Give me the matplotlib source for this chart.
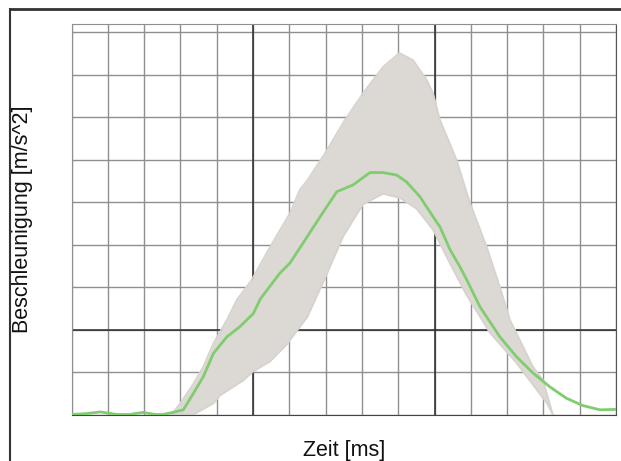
import numpy as np
import matplotlib.pyplot as plt
from matplotlib.lines import Line2D

plt.rcParams['font.family'] = ['Liberation Sans', 'DejaVu Sans']

# Mittelwertkurve (gruen)
mean_t = [0, 0.4, 0.79, 1.25, 1.6, 1.97, 2.3, 2.52, 2.8, 3.08, 3.36, 3.63, 3.91,
          4.28, 4.64, 5.01, 5.2, 5.74, 6.02, 6.38, 6.85, 7.31, 7.76, 8.22, 8.58,
          8.96, 9.23, 9.60, 9.96, 10.15, 10.43, 10.70, 10.89, 11.25, 11.80,
          12.26, 12.71, 13.18, 13.64, 14.09, 14.56, 15.0]
mean_a = [0.0, 0.02, 0.06, 0.0, 0.0, 0.05, 0.0, 0.0, 0.05, 0.11, 0.5, 0.89, 1.44,
          1.83, 2.07, 2.38, 2.72, 3.33, 3.57, 4.04, 4.66, 5.25, 5.41, 5.70, 5.70,
          5.64, 5.48, 5.13, 4.66, 4.42, 3.88, 3.48, 3.17, 2.54, 1.83,
          1.36, 0.98, 0.65, 0.38, 0.21, 0.11, 0.12]

# obere Huellkurve der Einzelmessungen
upper_t = [2.75, 2.99, 3.36, 3.63, 3.91, 4.28, 4.55, 4.96, 5.47, 6.02, 6.29, 6.48,
           6.98, 7.5, 8.03, 8.58, 9.03, 9.41, 9.79, 9.96, 10.15, 10.61, 10.98,
           11.44, 11.80, 12.08, 12.71, 12.99, 13.26]
upper_a = [0.0, 0.26, 0.73, 1.13, 1.68, 2.23, 2.70, 3.17, 3.95, 4.75, 5.3, 5.5,
           6.15, 6.9, 7.57, 8.19, 8.52, 8.35, 7.88, 7.57, 6.94, 6.0, 4.98,
           3.95, 3.01, 2.23, 1.13, 0.81, 0.0]

# untere Huellkurve
lower_t = [2.75, 3.36, 3.91, 4.09, 4.73, 4.98, 5.47, 5.93, 6.5, 7.03, 7.48, 8.03,
           8.58, 9.05, 9.5, 9.96, 10.43, 10.89, 11.53, 12.26, 13.09, 13.26]
lower_a = [0.0, 0.0, 0.26, 0.45, 0.8, 1.0, 1.25, 1.65, 2.3, 3.3, 4.19, 4.95,
           5.2, 5.1, 4.85, 4.35, 3.55, 2.8, 1.92, 1.21, 0.27, 0.0]

x_ticks = np.arange(0, 16)
y_ticks = np.arange(0, 10)
major_x = [5, 10]
major_y = [2]

fig = plt.figure(figsize=(6.21, 4.61), dpi=100)
ax = fig.add_axes([71.5 / 621, 1 - 414.5 / 461, (616 - 71.5) / 621, (414.5 - 24) / 461])

# Grauer Bereich aus den Huellkurven
t_fill = np.union1d(upper_t, lower_t)
up = np.interp(t_fill, upper_t, upper_a)
lo = np.interp(t_fill, lower_t, lower_a)
ax.fill_between(t_fill, lo, up, color='#dcd9d5', lw=0, zorder=2)
ax.plot(upper_t, upper_a, color='#d6d3cf', lw=1.2, zorder=2)
ax.plot(lower_t, lower_a, color='#d6d3cf', lw=1.2, zorder=2)

ax.plot(mean_t, mean_a, color='#7fcd6e', lw=2.0, zorder=4)

ax.set_xlim(0, 15)
ax.set_ylim(0, 9.2)
ax.set_xticks(x_ticks)
ax.set_yticks(y_ticks)
ax.tick_params(length=0, labelbottom=False, labelleft=False)
ax.grid(True, color='#8f8f8f', lw=1.0)
ax.set_axisbelow(True)
for v in major_x:
    ax.axvline(v, color='#2a2a2a', lw=1.1, zorder=1)
for v in major_y:
    ax.axhline(v, color='#2a2a2a', lw=1.1, zorder=1)

for s in ['left', 'top']:
    ax.spines[s].set_color('#8f8f8f')
ax.spines['bottom'].set_color('#444444')
ax.spines['right'].set_color('#555555')

fig.text(23 / 621, 1 - 219 / 461, 'Beschleunigung [m/s^2]', rotation=90,
         ha='center', va='center', fontsize=15.5, color='#111111')
fig.text(343.7 / 621, 1 - 450 / 461, 'Zeit [ms]', ha='center', va='center',
         fontsize=15.5, color='#111111')

# Rahmen um das Diagramm
fig.add_artist(Line2D([9.5 / 621, 1], [1 - 9.5 / 461] * 2, color='#333333', lw=2))
fig.add_artist(Line2D([9.5 / 621] * 2, [0, 1 - 9.5 / 461], color='#333333', lw=1.5))

fig.savefig('out.png', dpi=100)
